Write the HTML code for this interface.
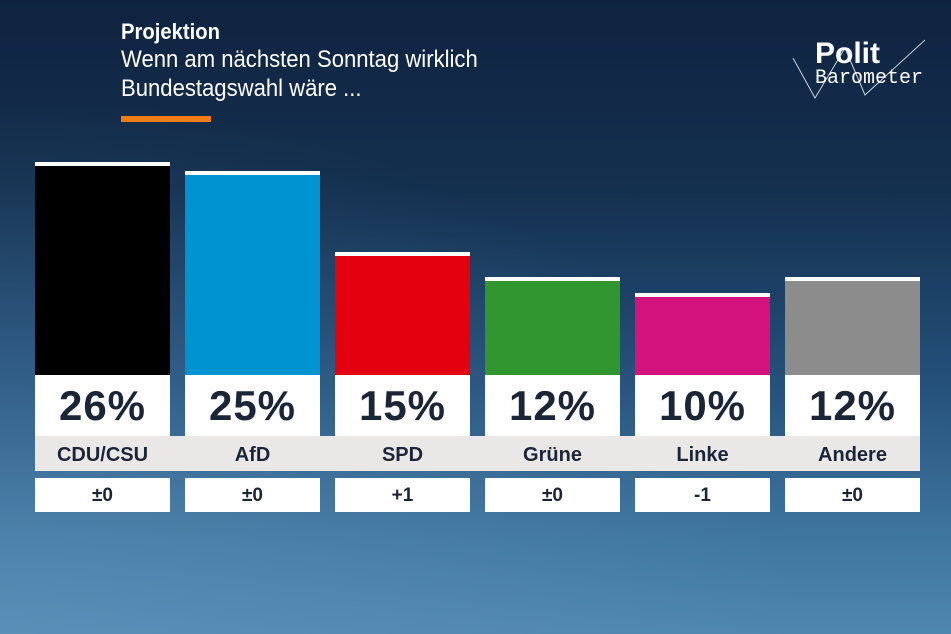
<!DOCTYPE html>
<html><head><meta charset="utf-8"><style>
*{margin:0;padding:0;box-sizing:border-box}
body{width:951px;height:634px;overflow:hidden;position:relative;font-family:"Liberation Sans",sans-serif;
background:linear-gradient(180deg,#0f2340 0%,#14304f 30%,#24507a 60%,#3f76a0 85%,#4f86b0 100%);}
.ov{position:absolute;inset:0;background:radial-gradient(ellipse at 0% 100%,rgba(110,160,200,.35),rgba(0,0,0,0) 60%);}
.t{position:absolute;left:121px;color:#fff;font-size:24px;transform-origin:left top;transform:scaleX(0.92)}
.bar{position:absolute;width:135px;border-top:4px solid #fff}
.pct{position:absolute;top:375px;width:135px;height:61px;background:#fff;color:#1b2538;font-weight:bold;font-size:42px;text-align:center;line-height:61px;letter-spacing:1px}
.lbl{position:absolute;top:436px;left:35px;width:885px;height:35px;background:#e9e8e6}
.ln{position:absolute;top:436px;width:135px;height:35px;line-height:38px;text-align:center;font-weight:bold;font-size:20px;color:#1b2538}
.ch{position:absolute;top:478px;width:135px;height:34px;background:#fff;text-align:center;line-height:35px;font-weight:bold;font-size:19px;color:#1b2538}
</style></head><body><div class="ov"></div>
<div class="t" style="top:19px;font-weight:bold;font-size:22px">Projektion</div>
<div class="t" style="top:46px">Wenn am nächsten Sonntag wirklich</div>
<div class="t" style="top:75px">Bundestagswahl wäre ...</div>
<div style="position:absolute;left:121px;top:116px;width:90px;height:6px;background:#f07c14"></div>
<svg style="position:absolute;left:785px;top:30px" width="150" height="70"><polyline points="8,28 30,68 60,18" fill="none" stroke="#c8d2dc" stroke-width="1"/><polyline points="60,18 80,65 140,10" fill="none" stroke="#c8d2dc" stroke-width="1"/>
<text x="30" y="33" fill="#fff" font-family="Liberation Sans" font-weight="bold" font-size="30">Polit</text>
<text x="30" y="53" fill="#fff" font-family="Liberation Mono" font-size="20">Barometer</text></svg>
<div class="bar" style="left:35px;top:162px;height:213px;background:#000"></div>
<div class="bar" style="left:185px;top:171px;height:204px;background:#0093d2"></div>
<div class="bar" style="left:335px;top:252px;height:123px;background:#e3000f"></div>
<div class="bar" style="left:485px;top:277px;height:98px;background:#31962f"></div>
<div class="bar" style="left:635px;top:293px;height:82px;background:#d4137f"></div>
<div class="bar" style="left:785px;top:277px;height:98px;background:#8c8c8c"></div>
<div class="pct" style="left:35px">26%</div><div class="pct" style="left:185px">25%</div><div class="pct" style="left:335px">15%</div><div class="pct" style="left:485px">12%</div><div class="pct" style="left:635px">10%</div><div class="pct" style="left:785px">12%</div>
<div class="lbl"></div>
<div class="ln" style="left:35px">CDU/CSU</div><div class="ln" style="left:185px">AfD</div><div class="ln" style="left:335px">SPD</div><div class="ln" style="left:485px">Grüne</div><div class="ln" style="left:635px">Linke</div><div class="ln" style="left:785px">Andere</div>
<div class="ch" style="left:35px">±0</div><div class="ch" style="left:185px">±0</div><div class="ch" style="left:335px">+1</div><div class="ch" style="left:485px">±0</div><div class="ch" style="left:635px">-1</div><div class="ch" style="left:785px">±0</div>
</body></html>
